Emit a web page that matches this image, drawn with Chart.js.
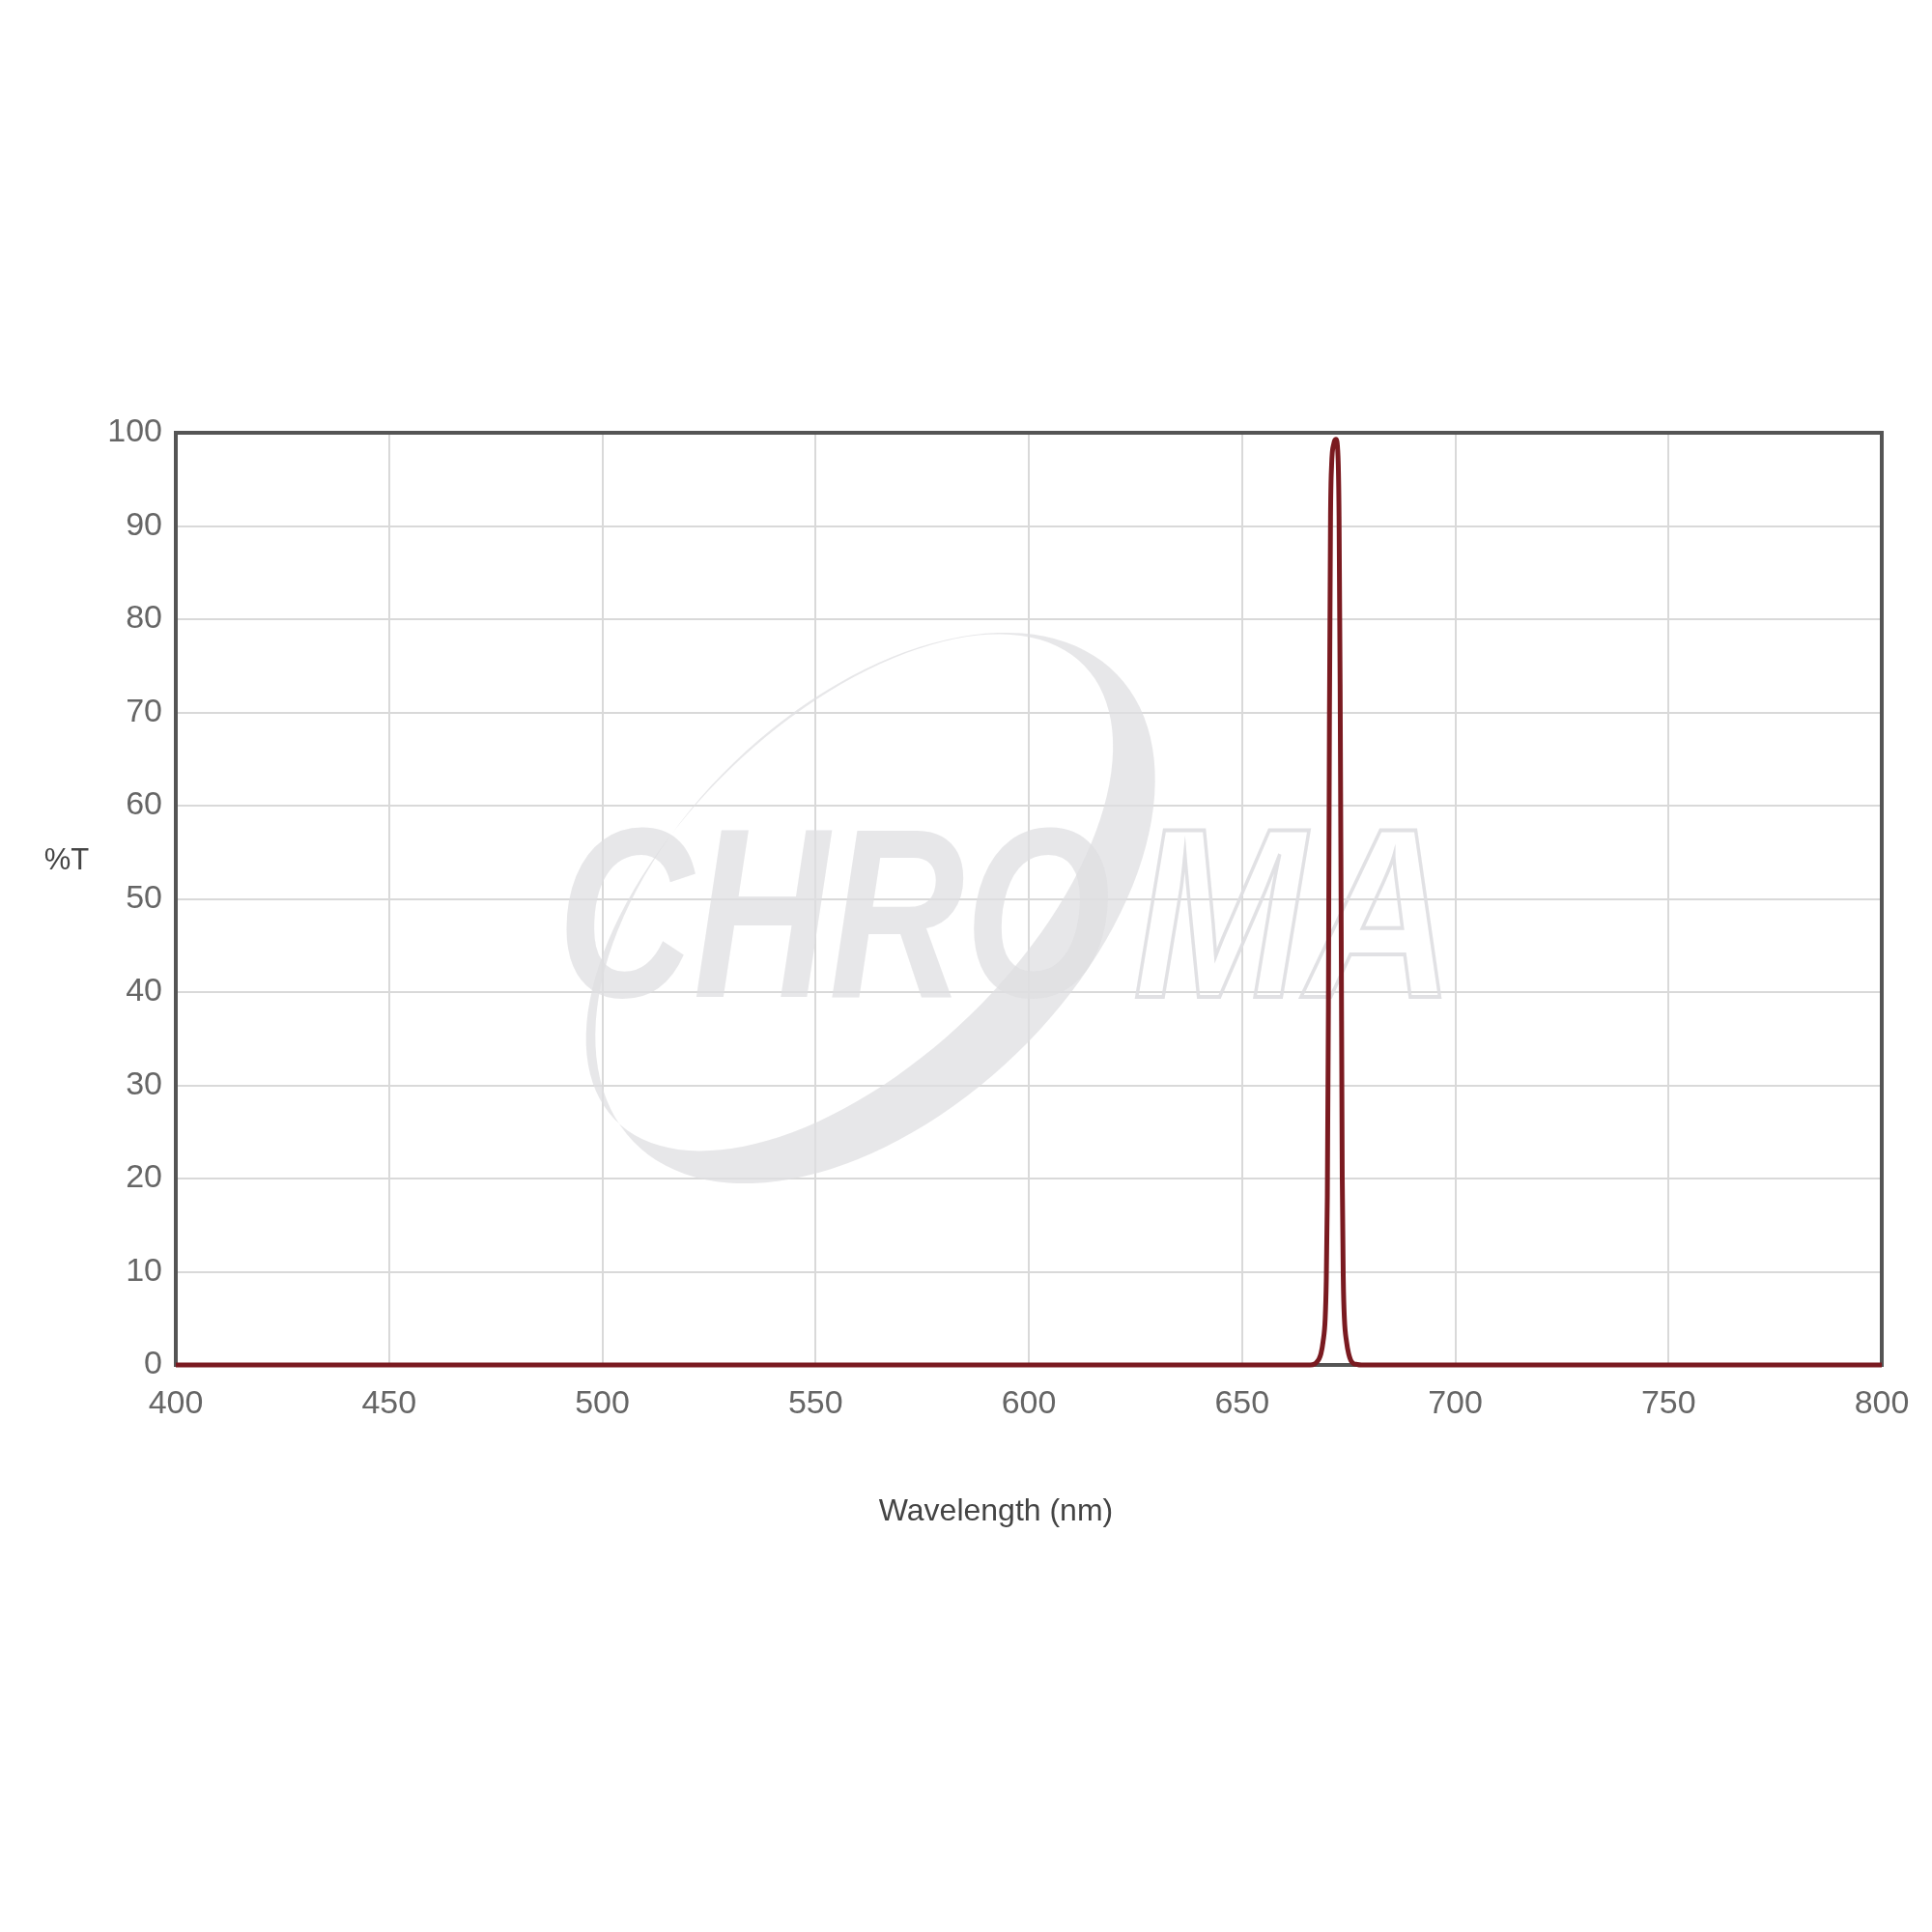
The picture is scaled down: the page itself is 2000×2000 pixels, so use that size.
<!DOCTYPE html>
<html>
<head>
<meta charset="utf-8">
<script src="https://cdn.jsdelivr.net/npm/chart.js@4.4.1/dist/chart.umd.min.js"></script>
<style>
  html, body { margin: 0; padding: 0; background: #ffffff; }
  #wrap { width: 2000px; height: 2000px; }
</style>
</head>
<body>
<div id="wrap"><canvas id="c" width="2000" height="2000"></canvas></div>
<script>
// ---- data ----
const wavelengthNm = [400, 500, 600, 650, 660, 665, 666, 667, 667.5, 668, 668.5, 669, 669.5, 669.75, 670, 670.25, 670.5, 670.75, 671, 671.5, 672, 672.5, 672.75, 673, 673.25, 673.5, 673.75, 674, 674.5, 675, 675.5, 676, 677, 678, 680, 690, 700, 750, 800];
const transmission = [0, 0, 0, 0, 0, 0, 0, 0.1, 0.3, 0.6, 1.2, 2.5, 5, 9, 18, 38, 70, 91, 96.5, 98.8, 99.3, 97.5, 91, 73, 47, 20, 9, 5, 2.5, 1.2, 0.5, 0.2, 0.05, 0, 0, 0, 0, 0, 0];
const xTicks = [400, 450, 500, 550, 600, 650, 700, 750, 800];
const yTicks = [0, 10, 20, 30, 40, 50, 60, 70, 80, 90, 100];
const xTitle = 'Wavelength (nm)';
const yTitle = '%T';
const watermarkA = 'CHRO';
const watermarkB = 'MA';

const points = wavelengthNm.map((w, i) => ({ x: w, y: transmission[i] }));
const FONT = '"Liberation Sans", Arial, sans-serif';

const decor = {
  id: 'decor',
  beforeDatasetsDraw(chart) {
    const ctx = chart.ctx;
    const a = chart.chartArea;
    // watermark
    ctx.save();
    ctx.fillStyle = 'rgba(222,222,225,0.72)';
    ctx.strokeStyle = 'rgba(222,222,225,0.9)';
    // crescent ellipse
    ctx.save();
    ctx.translate(906, 940);
    ctx.rotate(-44 * Math.PI / 180);
    ctx.beginPath();
    ctx.ellipse(0, 0, 348, 210, 0, 0, Math.PI * 2);
    ctx.ellipse(-8, -30, 338, 178, 0, 0, Math.PI * 2);
    ctx.fill('evenodd');
    ctx.restore();
    // letters
    ctx.font = 'italic bold 250px ' + FONT;
    ctx.textBaseline = 'alphabetic';
    ctx.textAlign = 'left';
    let wA = ctx.measureText(watermarkA).width;
    ctx.save();
    ctx.translate(577, 1032);
    ctx.scale(573 / wA, 1);
    ctx.fillText(watermarkA, 0, 0);
    ctx.restore();
    let wB = ctx.measureText(watermarkB).width;
    ctx.save();
    ctx.translate(1173, 1032);
    ctx.scale(333 / wB, 1);
    ctx.lineWidth = 4;
    ctx.strokeText(watermarkB, 0, 0);
    ctx.restore();
    ctx.restore();

    // plot frame
    ctx.save();
    ctx.strokeStyle = '#555555';
    ctx.lineWidth = 4;
    ctx.strokeRect(a.left, a.top, a.right - a.left, a.bottom - a.top);
    ctx.restore();
  },
  afterDraw(chart) {
    const ctx = chart.ctx;
    ctx.save();
    ctx.fillStyle = '#444444';
    ctx.textAlign = 'center';
    ctx.textBaseline = 'middle';
    ctx.font = '31px ' + FONT;
    ctx.fillText(yTitle, 69, 891);
    ctx.font = '32px ' + FONT;
    ctx.fillText(xTitle, 1031, 1565);
    ctx.restore();
  }
};

new Chart(document.getElementById('c'), {
  type: 'line',
  data: {
    datasets: [{
      data: points,
      borderColor: '#7a1a20',
      borderWidth: 5,
      pointRadius: 0,
      tension: 0.25,
      cubicInterpolationMode: 'monotone',
      fill: false,
      clip: 10
    }]
  },
  options: {
    responsive: false,
    animation: false,
    devicePixelRatio: 1,
    layout: { padding: { left: 0, top: 448, right: 52, bottom: 487 } },
    plugins: { legend: { display: false }, tooltip: { enabled: false }, title: { display: false } },
    scales: {
      x: {
        type: 'linear',
        min: 400, max: 800,
        afterFit(s) { s.height = 100; },
        afterBuildTicks(s) { s.ticks = xTicks.map(v => ({ value: v })); },
        ticks: { color: '#666666', font: { family: FONT, size: 34 }, padding: 20, maxRotation: 0, autoSkip: false },
        grid: { color: '#d9d9d9', lineWidth: 2, drawTicks: false },
        border: { display: false }
      },
      y: {
        type: 'linear',
        min: 0, max: 100,
        afterFit(s) { s.width = 182; },
        afterBuildTicks(s) { s.ticks = yTicks.map(v => ({ value: v })); },
        ticks: { color: '#666666', font: { family: FONT, size: 34 }, padding: 14, autoSkip: false },
        grid: { color: '#d9d9d9', lineWidth: 2, drawTicks: false },
        border: { display: false }
      }
    }
  },
  plugins: [decor]
});
</script>
</body>
</html>
